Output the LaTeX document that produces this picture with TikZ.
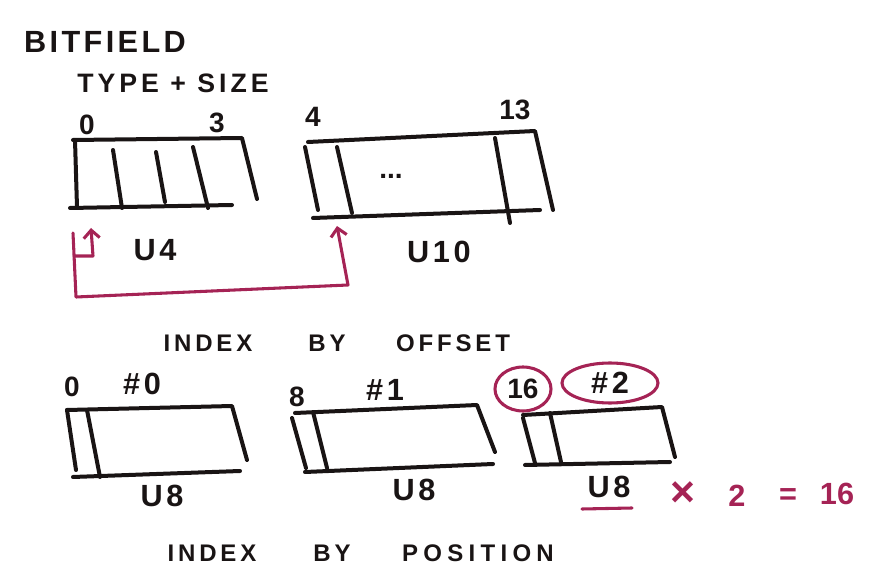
\documentclass[tikz,border=0pt]{standalone}
\usepackage{fontspec}
\setmainfont{Liberation Sans}[BoldFont=Liberation Sans Bold]
\newfontfamily\handA[LetterSpace=11]{Liberation Sans Bold}
\newfontfamily\handB[LetterSpace=15]{Liberation Sans Bold}
\newfontfamily\handC[LetterSpace=16]{Liberation Sans Bold}
\newfontfamily\handD[LetterSpace=22]{Liberation Sans Bold}
\newfontfamily\handE[LetterSpace=12]{Liberation Sans Bold}
\newfontfamily\handL{Liberation Sans Bold}
\usetikzlibrary{arrows.meta,shapes.geometric}
\definecolor{marker}{RGB}{165,35,85}
\definecolor{inkc}{RGB}{25,20,20}
\begin{document}
\begin{tikzpicture}[x=0.75pt,y=-0.75pt,
  ink/.style={line width=3pt, line cap=round, line join=round, inkc},
  redink/.style={line width=2.3pt, line cap=round, line join=round, marker},
  barb/.style={-{Straight Barb[length=6pt,width=12pt,line width=2.3pt]}},
  lbl/.style={inner sep=0pt, text=inkc, font=\handL\fontsize{21}{23}\selectfont},
  hlbl/.style={inner sep=0pt, text=inkc, font=\handE\fontsize{23}{25}\selectfont},
  ulbl/.style={inner sep=0pt, text=inkc, font=\handE\fontsize{23}{25}\selectfont},
  rlbl/.style={inner sep=0pt, text=marker, font=\handL\fontsize{23}{25}\selectfont},
  title/.style={inner sep=0pt, text=inkc, font=\handA\fontsize{23}{25}\selectfont},
  sub/.style={inner sep=0pt, text=inkc, font=\handB\fontsize{20}{22}\selectfont},
  head/.style={inner sep=0pt, text=inkc, font=\handC\fontsize{18}{20}\selectfont},
  headp/.style={inner sep=0pt, text=inkc, font=\handD\fontsize{18}{20}\selectfont},
  ring/.style={draw=marker, line width=2.3pt, ellipse, inner sep=0pt}
]
\useasboundingbox (0,0) rectangle (872,570);

% titles
\node[title] (bitfield) at (105,42) {BITFIELD};
\node[sub] (typesize) at (173,83) {TYPE + SIZE};

% ---- box u4
\draw[ink] (73,140) -- (242,138) -- (257,199);
\draw[ink] (75,140) -- (77,207);
\draw[ink] (70,208) -- (232,205);
\draw[ink] (113,150) -- (122,208);
\draw[ink] (156,152) -- (165,202);
\draw[ink] (193,147) -- (208,208);
\node[lbl] (n0) at (87,125) {0};
\node[lbl] (n3) at (217,123) {3};
\node[ulbl] (u4) at (155,250) {U4};

% ---- box u10
\draw[ink] (308,142) -- (535,131) -- (553,210);
\draw[ink] (305,147) -- (318,210);
\draw[ink] (313,218) -- (540,210);
\draw[ink] (337,147) -- (352,213);
\draw[ink] (495,138) -- (510,223);
\node[lbl] (dots) at (391,176) {...};
\node[lbl] (n4) at (313,117) {4};
\node[lbl] (n13) at (515,110) {13};
\node[ulbl] (u10) at (439,252) {U10};

% ---- red arrows
\coordinate (s0) at (73,233);
\coordinate (s1) at (76,297);
\coordinate (s2) at (348,285);
\coordinate (t2) at (337,226);
\coordinate (m0) at (74,256);
\coordinate (m1) at (93,256);
\coordinate (t1) at (91,228);
\draw[redink,barb] (s0) -- (s1) -- (s2) -- (t2);
\draw[redink,barb] (m0) -- (m1) -- (t1);

% ---- index by offset
\node[head] (idx1) at (208,343) {INDEX};
\node[head] (by1) at (327,343) {BY};
\node[head] (offset) at (453,343) {OFFSET};

% box #0
\draw[ink] (67,410) -- (232,406) -- (247,460);
\draw[ink] (67,410) -- (76,470);
\draw[ink] (73,477) -- (240,471);
\draw[ink] (87,410) -- (100,477);
\node[lbl] (b0) at (72,387) {0};
\node[hlbl] (h0) at (142,384) {\#0};
\node[ulbl] (u8a) at (162,496) {U8};

% box #1
\draw[ink] (295,413) -- (477,405) -- (495,452);
\draw[ink] (292,418) -- (306,468);
\draw[ink] (305,472) -- (493,464);
\draw[ink] (313,412) -- (327,468);
\node[lbl] (b8) at (297,397) {8};
\node[hlbl] (h1) at (385,390) {\#1};
\node[ulbl] (u8b) at (414,490) {U8};

% box #2
\draw[ink] (523,415) -- (662,407) -- (675,457);
\draw[ink] (523,418) -- (535,463);
\draw[ink] (525,465) -- (670,462);
\draw[ink] (550,413) -- (561,462);
\node[lbl,ring,minimum width=42pt,minimum height=33pt] (b16) at (523,389) {16};
\node[hlbl,ring,minimum width=72pt,minimum height=30pt] (h2) at (610,383) {\#2};
\node[ulbl] (u8c) at (609,487) {U8};
\coordinate (ul0) at (582,509);
\coordinate (ul1) at (632,508);
\draw[redink] (ul0) -- (ul1);
\node[rlbl, font=\handL\fontsize{32}{34}\selectfont] (times) at (683,494) {\texttimes};
\node[rlbl] (two) at (737,496) {2};
\node[rlbl] (eq) at (788,497) {=};
\node[rlbl] (sixteen) at (837,494) {16};

% ---- index by position
\node[head] (idx2) at (212,553) {INDEX};
\node[head] (by2) at (332,553) {BY};
\node[headp] (position) at (478,553) {POSITION};
\end{tikzpicture}
\end{document}
